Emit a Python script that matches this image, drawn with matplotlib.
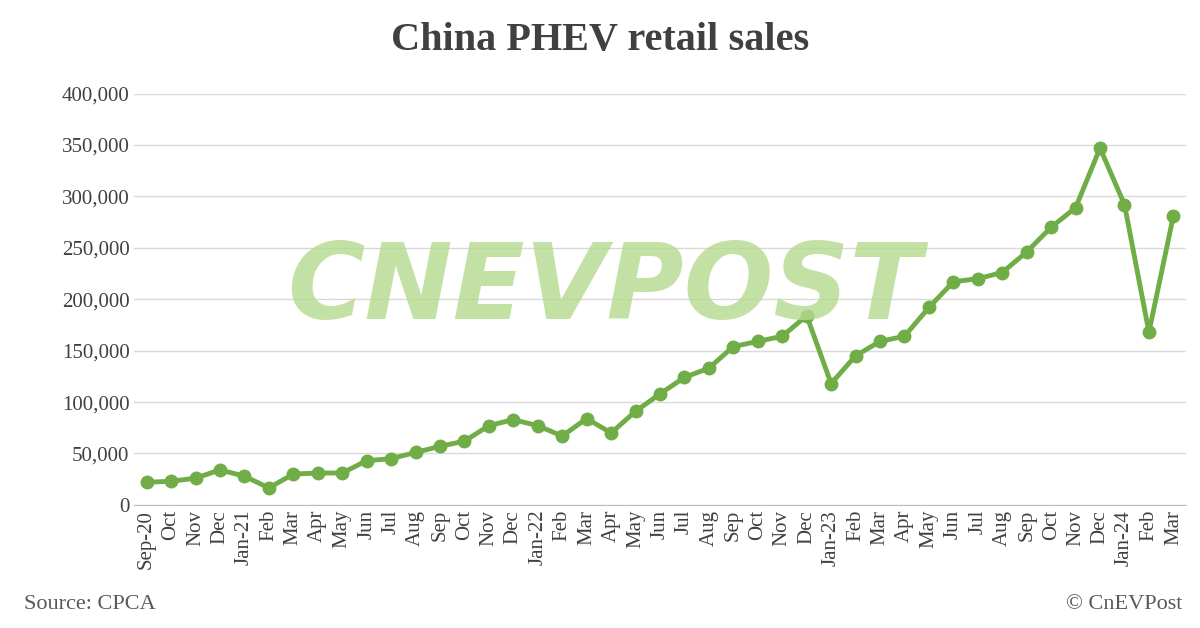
import matplotlib.pyplot as plt
from matplotlib.ticker import FuncFormatter

plt.rcParams['font.family'] = ['Liberation Serif', 'DejaVu Serif']

months = ['Sep-20', 'Oct', 'Nov', 'Dec', 'Jan-21', 'Feb', 'Mar', 'Apr', 'May', 'Jun', 'Jul', 'Aug',
          'Sep', 'Oct', 'Nov', 'Dec', 'Jan-22', 'Feb', 'Mar', 'Apr', 'May', 'Jun', 'Jul', 'Aug',
          'Sep', 'Oct', 'Nov', 'Dec', 'Jan-23', 'Feb', 'Mar', 'Apr', 'May', 'Jun', 'Jul', 'Aug',
          'Sep', 'Oct', 'Nov', 'Dec', 'Jan-24', 'Feb', 'Mar']
sales = [22000, 23000, 26000, 34000, 28000, 16500, 30000, 31000, 31000, 43000, 45000, 51000,
         57000, 62000, 77000, 83000, 77000, 67000, 84000, 70000, 91000, 108000, 124000, 133000,
         154000, 159000, 164000, 184000, 118000, 145000, 159000, 164000, 192000, 217000, 220000, 226000,
         246000, 270000, 289000, 347000, 292000, 168000, 281000]

green = '#70ad47'
fig = plt.figure(figsize=(12, 6.28), dpi=100)
ax = fig.add_axes([0.112, 0.196, 0.876, 0.655])
x = list(range(len(months)))
ax.plot(x, sales, color=green, linewidth=3.5, marker='o', markersize=9, zorder=3)

ax.set_ylim(0, 400000)
ax.set_xlim(-0.5, len(months) - 0.5)
ax.set_yticks(range(0, 400001, 50000))
ax.yaxis.set_major_formatter(FuncFormatter(lambda v, p: f'{int(v):,}'))
ax.set_xticks(x)
ax.set_xticklabels(months, rotation=90)
ax.tick_params(axis='both', labelsize=15, colors='#404040', length=0)
ax.grid(axis='y', color='#d9d9d9', linewidth=1)
ax.set_axisbelow(True)
for s in ['top', 'right', 'left']:
    ax.spines[s].set_visible(False)
ax.spines['bottom'].set_color('#bfbfbf')

# watermark
fig.text(0.504, 1 - 290 / 628, 'CNEVPOST', ha='center', va='center',
         fontsize=76, fontweight='bold', style='italic', color='#b5d98f', alpha=0.8,
         family='DejaVu Sans', zorder=1)

fig.text(0.5, 0.935, 'China PHEV retail sales', ha='center', va='center',
         fontsize=29, fontweight='bold', color='#404040')
fig.text(0.02, 0.03, 'Source: CPCA', fontsize=16, color='#595959')
fig.text(0.985, 0.03, '© CnEVPost', fontsize=16, color='#595959', ha='right')

fig.savefig('out.png', dpi=100)
